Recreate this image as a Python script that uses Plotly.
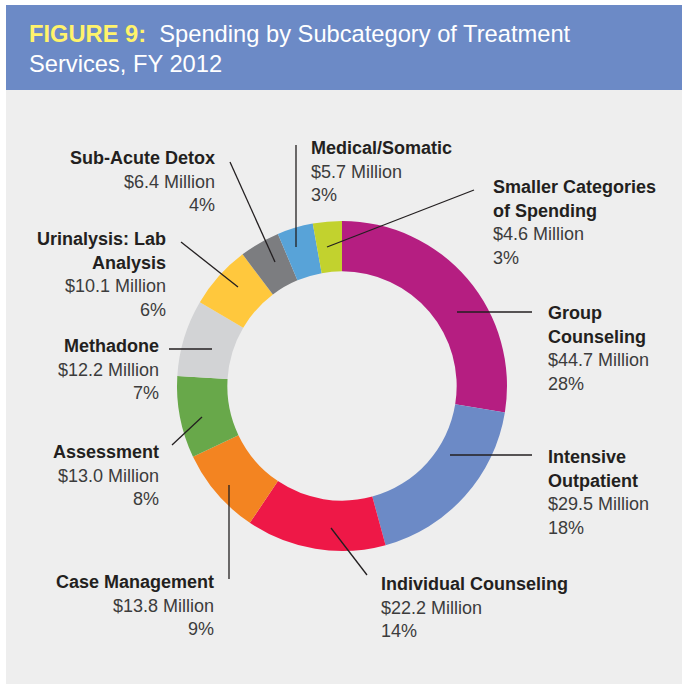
import plotly.graph_objects as go

# ---------------- data ----------------
categories = ["Group Counseling", "Intensive Outpatient", "Individual Counseling",
              "Case Management", "Assessment", "Methadone",
              "Urinalysis: Lab Analysis", "Sub-Acute Detox", "Medical/Somatic",
              "Smaller Categories of Spending"]
spending_millions = [44.7, 29.5, 22.2, 13.8, 13.0, 12.2, 10.1, 6.4, 5.7, 4.6]
percent_labels = [28, 18, 14, 9, 8, 7, 6, 4, 3, 3]
slice_colors = ["#B51E81", "#6C8AC6", "#EE1847", "#F38421", "#68A84A",
                "#D2D3D5", "#FFC83D", "#7C7D80", "#58A3D8", "#C2D22E"]

# ---------------- layout helpers ----------------
W, H = 682, 685
def X(px):
    return px / W
def Y(py):
    return 1 - py / H

# label placement (pixel positions of text baselines and leader lines)
label_layout = {
    "Group Counseling": dict(lines=["Group", "Counseling"], x=546, side="left", y0=319,
                             leader=[(457, 312), (532, 312)]),
    "Intensive Outpatient": dict(lines=["Intensive", "Outpatient"], x=546, side="left", y0=463,
                                 leader=[(450, 455), (532, 455)]),
    "Individual Counseling": dict(lines=["Individual Counseling"], x=379, side="left", y0=590,
                                  leader=[(331, 528), (367, 575)]),
    "Case Management": dict(lines=["Case Management"], x=216, side="right", y0=588,
                            leader=[(229, 485), (229, 579)]),
    "Assessment": dict(lines=["Assessment"], x=161, side="right", y0=458,
                       leader=[(172, 445), (202, 417)]),
    "Methadone": dict(lines=["Methadone"], x=161, side="right", y0=352,
                      leader=[(169, 349), (212, 349)]),
    "Urinalysis: Lab Analysis": dict(lines=["Urinalysis: Lab", "Analysis"], x=168, side="right", y0=245,
                                     leader=[(181, 242), (238, 287)]),
    "Sub-Acute Detox": dict(lines=["Sub-Acute Detox"], x=217, side="right", y0=164,
                            leader=[(230, 162), (275, 262)]),
    "Medical/Somatic": dict(lines=["Medical/Somatic"], x=309, side="left", y0=154,
                            leader=[(296, 145), (296, 247)]),
    "Smaller Categories of Spending": dict(lines=["Smaller Categories", "of Spending"], x=491, side="left", y0=193,
                                           leader=[(474, 190), (327, 247)]),
}

FONT = "Liberation Sans, Arial, Helvetica, sans-serif"
FS = 18
LINE = 23.8
BASE_OFF = 0.3465 * FS  # baseline -> visual center for yanchor middle

cx, cy, R = 342, 386, 165

fig = go.Figure()
fig.add_trace(go.Pie(
    labels=categories,
    values=spending_millions,
    marker=dict(colors=slice_colors, line=dict(width=0)),
    hole=0.695,
    sort=False,
    direction="clockwise",
    rotation=0,
    textinfo="none",
    hoverinfo="label+value+percent",
    showlegend=False,
    domain=dict(x=[X(cx - R), X(cx + R)], y=[Y(cy + R), Y(cy - R)]),
))

shapes = [
    # gray panel
    dict(type="rect", xref="paper", yref="paper", x0=X(6), x1=X(682), y0=Y(684), y1=Y(90),
         fillcolor="#EEEEEE", line=dict(width=0), layer="below"),
    # header band
    dict(type="rect", xref="paper", yref="paper", x0=X(6), x1=X(682), y0=Y(90), y1=Y(5),
         fillcolor="#6C8AC6", line=dict(width=0), layer="below"),
]

annotations = []
# title
title_lines = [
    "<b><span style='color:#FFF36B'>FIGURE 9:</span></b>  Spending by Subcategory of Treatment",
    "Services, FY 2012",
]
title_baselines = [42, 72]
for t, b in zip(title_lines, title_baselines):
    annotations.append(dict(
        text=t, x=X(27), y=Y(b - 0.3465 * 23.7), xref="paper", yref="paper",
        xanchor="left", yanchor="middle", showarrow=False,
        font=dict(family=FONT, size=23.7, color="#FFFFFF")))

for cat, val, pct in zip(categories, spending_millions, percent_labels):
    L = label_layout[cat]
    rows = [("<b>%s</b>" % s, "#231F20") for s in L["lines"]]
    rows.append(("$%.1f Million" % val, "#3C3C3C"))
    rows.append(("%d%%" % pct, "#3C3C3C"))
    for i, (txt, col) in enumerate(rows):
        b = L["y0"] + i * LINE
        annotations.append(dict(
            text=txt, x=X(L["x"]), y=Y(b - BASE_OFF), xref="paper", yref="paper",
            xanchor=L["side"], yanchor="middle", showarrow=False,
            align=L["side"], font=dict(family=FONT, size=FS, color=col)))
    (x0, y0), (x1, y1) = L["leader"]
    shapes.append(dict(type="line", xref="paper", yref="paper",
                       x0=X(x0), y0=Y(y0), x1=X(x1), y1=Y(y1),
                       line=dict(color="#231F20", width=1.3)))

fig.update_layout(
    width=W, height=H,
    margin=dict(l=0, r=0, t=0, b=0),
    paper_bgcolor="#FFFFFF",
    plot_bgcolor="#FFFFFF",
    shapes=shapes,
    annotations=annotations,
)

fig.write_html("out.html", config={"displayModeBar": False},
               post_script="document.body.style.margin='0';document.body.style.overflow='hidden';")
